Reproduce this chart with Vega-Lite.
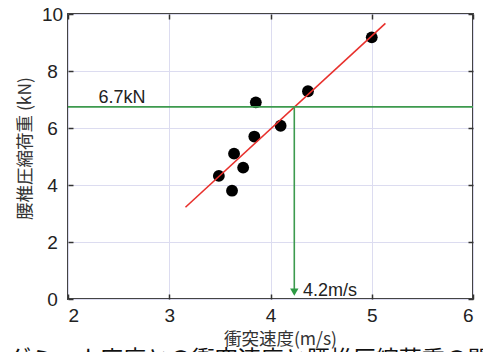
{
  "$schema": "https://vega.github.io/schema/vega-lite/v6.json",
  "autosize": "none",
  "width": 405,
  "height": 285,
  "padding": {"left": 68, "top": 14, "right": 10, "bottom": 53},
  "background": "white",
  "datasets": {
    "pts": [
      {"v": 3.49, "f": 4.32},
      {"v": 3.62, "f": 3.80},
      {"v": 3.64, "f": 5.10},
      {"v": 3.73, "f": 4.61},
      {"v": 3.84, "f": 5.70},
      {"v": 3.855, "f": 6.90},
      {"v": 4.10, "f": 6.08},
      {"v": 4.37, "f": 7.29},
      {"v": 5.00, "f": 9.18}
    ],
    "fit": [
      {"v": 3.16, "f": 3.22},
      {"v": 5.135, "f": 9.67}
    ],
    "guide": [
      {"v": 4.235, "f": 6.74, "f0": 0.3, "fa": 0.24}
    ],
    "labels": [
      {"v": 2.30, "f": 6.87, "t": "6.7kN"},
      {"v": 4.32, "f": 0.12, "t": "4.2m/s"}
    ]
  },
  "title": {
    "text": "ダミー人座席との衝突速度と腰椎圧縮荷重の関係",
    "orient": "bottom",
    "anchor": "start",
    "frame": "group",
    "fontSize": 23,
    "font": "Noto Sans CJK JP",
    "fontWeight": "normal",
    "color": "#111",
    "baseline": "top",
    "offset": 1,
    "dx": -60
  },
  "config": {
    "view": {"stroke": "#444", "strokeWidth": 2},
    "font": "Liberation Sans, Noto Sans CJK JP, sans-serif",
    "axis": {
      "domain": false,
      "grid": true,
      "gridColor": "#dcdcf0",
      "gridWidth": 1,
      "tickColor": "#333",
      "tickWidth": 1.5,
      "tickSize": -5,
      "labelFont": "Liberation Sans",
      "labelFontSize": 19,
      "labelColor": "#222",
      "titleFont": "Noto Sans CJK JP",
      "titleFontSize": 17.5,
      "titleFontWeight": "normal",
      "titleColor": "#333"
    }
  },
  "resolve": {"axis": {"x": "independent", "y": "independent"}},
  "layer": [
    {
      "data": {"name": "pts"},
      "mark": {"type": "point", "filled": true, "color": "black", "opacity": 1, "size": 140},
      "encoding": {
        "x": {
          "field": "v", "type": "quantitative",
          "scale": {"domain": [2, 6], "nice": false, "zero": false},
          "axis": {"orient": "bottom", "values": [2, 3, 4, 5, 6], "title": "衝突速度(m/s)", "labelPadding": 12, "titleX": 212, "titleY": 40, "titleBaseline": "middle"}
        },
        "y": {
          "field": "f", "type": "quantitative",
          "scale": {"domain": [0, 10], "nice": false, "zero": false},
          "axis": {"orient": "left", "values": [0, 2, 4, 6, 8, 10], "title": "腰椎圧縮荷重 (kN)", "labelAlign": "center", "labelPadding": 21, "titleX": -43, "titleY": 134, "titleBaseline": "middle", "titleAngle": -90}
        }
      }
    },
    {
      "data": {"name": "fit"},
      "mark": {"type": "line", "color": "#e8302c", "strokeWidth": 1.6},
      "encoding": {
        "x": {"field": "v", "type": "quantitative", "axis": {"orient": "top", "values": [2, 3, 4, 5, 6], "labels": false, "grid": false, "title": null}},
        "y": {"field": "f", "type": "quantitative", "axis": {"orient": "right", "values": [0, 2, 4, 6, 8, 10], "labels": false, "grid": false, "title": null}}
      }
    },
    {
      "data": {"name": "guide"},
      "mark": {"type": "rule", "color": "#3d9a4e", "strokeWidth": 1.6},
      "encoding": {
        "y": {"field": "f", "type": "quantitative", "axis": null}
      }
    },
    {
      "data": {"name": "guide"},
      "mark": {"type": "rule", "color": "#3d9a4e", "strokeWidth": 1.6},
      "encoding": {
        "x": {"field": "v", "type": "quantitative", "axis": null},
        "y": {"field": "f", "type": "quantitative", "axis": null},
        "y2": {"field": "f0"}
      }
    },
    {
      "data": {"name": "guide"},
      "mark": {"type": "point", "shape": "triangle-down", "filled": true, "color": "#2e9a44", "opacity": 1, "size": 70},
      "encoding": {
        "x": {"field": "v", "type": "quantitative", "axis": null},
        "y": {"field": "fa", "type": "quantitative", "axis": null}
      }
    },
    {
      "data": {"name": "labels"},
      "mark": {"type": "text", "align": "left", "baseline": "alphabetic", "fontSize": 18, "font": "Liberation Sans", "color": "#222"},
      "encoding": {
        "x": {"field": "v", "type": "quantitative", "axis": null},
        "y": {"field": "f", "type": "quantitative", "axis": null},
        "text": {"field": "t"}
      }
    }
  ]
}
